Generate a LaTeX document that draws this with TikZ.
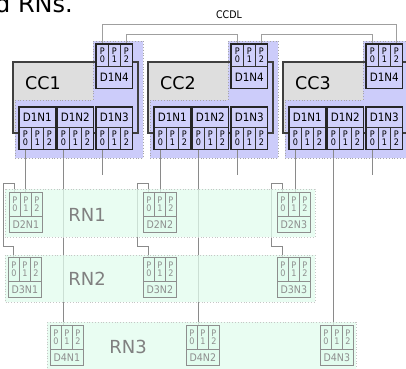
\documentclass[tikz,border=0pt]{standalone}
\usepackage{fontspec}
\setmainfont{DejaVu Sans}
\newfontfamily\narrowfont{DejaVu Sans}[FakeStretch=0.9]
\usepackage{xcolor}
\usetikzlibrary{positioning,calc}

\definecolor{ccgray}{HTML}{DEDEDE}
\definecolor{lav}{HTML}{CCCCFA}
\definecolor{lavbox}{HTML}{D0D0FB}
\definecolor{mint}{HTML}{E2FCEE}
\definecolor{rngray}{HTML}{8E8E8E}
\definecolor{wiregray}{HTML}{8A8A8A}

\pgfdeclarelayer{back}
\pgfdeclarelayer{wires}
\pgfdeclarelayer{panes}
\pgfsetlayers{back,wires,panes,main}

\begin{document}
\begin{tikzpicture}[x=1pt,y=-1pt,
						% Khung CC xám
						cc_area/.style={fill=ccgray},
						cc_edge/.style={draw=black!75, line width=1.2pt},
						% Vùng tím chấm
						lav_area/.style={fill=lav, draw=gray!70, dotted, line width=0.8pt},
						% Nhãn và cổng của nút D1
						cc_lab/.style={
							draw=black!80, fill=lavbox, line width=0.7pt,
							anchor=north west, minimum width=36pt, minimum height=20pt,
							inner sep=0pt, font=\narrowfont\fontsize{11.5}{12}\selectfont
						},
						cc_port/.style={
							draw=black!80, fill=lavbox, line width=0.7pt,
							anchor=north west, minimum width=12pt, minimum height=22pt,
							inner sep=0pt, align=center, font=\narrowfont\fontsize{9}{8}\selectfont
						},
						cc_frame/.style={draw=black!85, line width=1.1pt},
						cc_name/.style={font=\fontsize{17.5}{18}\selectfont},
						% Nhãn và cổng của nút RN (xám nhạt)
						rn_lab/.style={
							draw=rngray, fill=mint, text=rngray, line width=0.7pt,
							anchor=north west, minimum width=33pt, minimum height=16pt,
							inner sep=0pt, font=\narrowfont\fontsize{10.5}{11}\selectfont
						},
						rn_port/.style={
							draw=rngray, fill=mint, text=rngray, line width=0.7pt,
							anchor=north west, minimum width=11pt, minimum height=24pt,
							inner sep=0pt, align=center, font=\narrowfont\fontsize{9}{8}\selectfont
						},
						rn_frame/.style={draw=rngray, line width=1pt},
						rn_pane/.style={fill=mint, fill opacity=0.75, draw=gray!45, dotted, line width=0.8pt},
						rn_name/.style={text=rngray!90!black, font=\fontsize{18}{18}\selectfont},
						% Dây nối
						wire/.style={draw=wiregray, line width=0.8pt},
						ccdl_wire/.style={draw=gray!75, line width=0.8pt}
						]
						\useasboundingbox (0,0) rectangle (406,368);
						
						% --- Tiêu đề bị cắt ---
						\node[anchor=base west, inner sep=0pt, font=\fontsize{24}{24}\selectfont] (hdr) at (-5,12) {d RNs.};
						\node[font=\narrowfont\fontsize{10.5}{10}\selectfont] (ccdl) at (229,15) {CCDL};
						
						% --- CC1, CC2, CC3 ---
						\foreach \c [count=\k from 0] in {1,2,3} {
							\begin{scope}[shift={(\k*135,0)}]
								\begin{pgfonlayer}{back}
									\fill[cc_area] (13,62) rectangle (138,133);
									\draw[lav_area] (93,41) -- (143,41) -- (143,158) -- (15,158) -- (15,100) -- (93,100) -- cycle;
									\draw[cc_edge] (13,62) rectangle (138,133);
								\end{pgfonlayer}
								\node[cc_name] (cc\c) at (43,83) {CC\c};
								
								% D1N1 .. D1N3: nhãn trên, cổng dưới
								\foreach \n/\x in {1/19,2/57,3/96} {
									\node[cc_lab] (c\c-\n) at (\x,107) {D1N\n};
									\foreach \p in {0,1,2}
										\node[cc_port] (c\c-\n-\p) at (\x+\p*12,127) {P\\\p};
									\draw[cc_frame] (c\c-\n.north west) rectangle (c\c-\n-2.south east);
								}
								
								% D1N4: cổng trên, nhãn dưới
								\foreach \p in {0,1,2}
									\node[cc_port] (c\c-4-\p) at (96+\p*12,44) {P\\\p};
								\node[cc_lab, minimum height=22pt] (c\c-4) at (96,66) {D1N4};
								\draw[cc_frame] (c\c-4-0.north west) rectangle (c\c-4.south east);
							\end{scope}
						}
						
						% --- RN1, RN2, RN3 ---
						\begin{pgfonlayer}{panes}
							\draw[rn_pane] (5,189) rectangle (315,237);
							\draw[rn_pane] (5,255) rectangle (315,302);
							\draw[rn_pane] (47,322) rectangle (356,372);
						\end{pgfonlayer}
						\node[rn_name] (rn1) at (87,215) {RN1};
						\node[rn_name] (rn2) at (87,279) {RN2};
						\node[rn_name] (rn3) at (128,347) {RN3};
						
						\foreach \d/\n/\x/\y in {2/1/9/192, 2/2/143/192, 2/3/277/192,
							3/1/8/257, 3/2/143/257, 3/3/277/257,
							4/1/50/325, 4/2/186/325, 4/3/320/325} {
							\foreach \p in {0,1,2}
								\node[rn_port] (d\d-\n-\p) at (\x+\p*11,\y) {P\\\p};
							\node[rn_lab] (d\d-\n) at (\x,\y+24) {D\d N\n};
							\draw[rn_frame] (d\d-\n-0.north west) rectangle (d\d-\n.south east);
						}
						
						% --- Dây nối ---
						\begin{pgfonlayer}{wires}
							% Vòng CCDL
							\draw[ccdl_wire] (c1-4-0.north) -- ++(0,-20) -| (c3-4-2.north);
							\draw[ccdl_wire] (c1-4-2.north) -- ++(0,-10) -| (c2-4-0.north);
							\draw[ccdl_wire] (c2-4-2.north) -- ++(0,-10) -| (c3-4-0.north);
							
							\foreach \c in {1,2,3} {
								\draw[wire] (c\c-1-0.south) -- (c\c-1-0.south |- d2-\c-1.north);
								\draw[wire] (c\c-2-0.south) -- (c\c-2-0.south |- d4-\c-1.north);
								\draw[wire] (c\c-3-0.south) -- ++(0,25);
								% D2 nối D3 qua bên trái
								\draw[wire] (d2-\c-0.north) -- ++(0,-9) -- ++(-11,0) |- ($(d3-\c-0.north)+(0,-11)$) -- (d3-\c-0.north);
							}
						\end{pgfonlayer}
						
					\end{tikzpicture}
\end{document}
